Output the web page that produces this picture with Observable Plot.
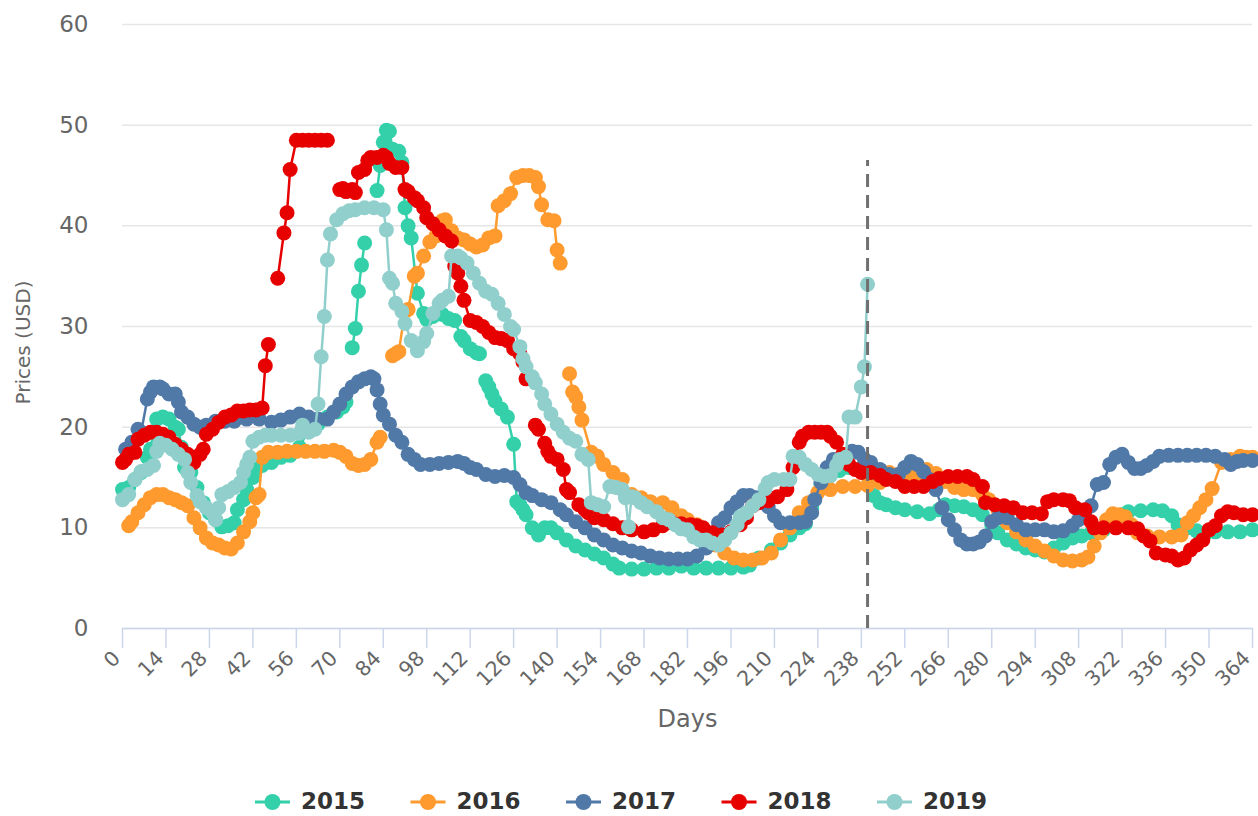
<!DOCTYPE html>
<html><head><meta charset="utf-8">
<script src="https://cdn.jsdelivr.net/npm/d3@7"></script>
<script src="https://cdn.jsdelivr.net/npm/@observablehq/plot@0.6"></script>
<style>
body{margin:0;background:#fff;font-family:"DejaVu Sans",sans-serif;overflow:hidden;}
#chart{position:absolute;left:0;top:0;}
#legend{position:absolute;left:0;top:762px;}
</style></head><body><div id="chart"></div><div id="legend"></div>
<script>
const years = ["2015","2016","2017","2018","2019"];
const colors = ["#33d0aa","#fe9a2e","#5079a8","#e60000","#91cfcc"];
const xTicks = d3.range(0, 365, 14);
const yTicks = [0,10,20,30,40,50,60];
const todayDay = 240;
const todayLineTop = 46.5;

const days2015 = [0,2,4,6,8,9,10,11,13,15,17,18,19,20,22,24,26,28,30,32,34,36,37,39,40,42,43,45,48,51,54,57,60,63,66,69,71,72,73,74,75,76,77,78,80,82,83,84,85,86,87,89,90,91,92,93,95,97,98,100,103,105,107,109,110,112,114,115,116,117,118,119,120,122,124,126,127,128,129,130,132,134,136,138,140,143,146,149,152,155,158,160,164,168,172,176,180,184,188,192,196,200,202,205,209,212,215,218,220,222,225,228,231,234,237,240,242,244,246,249,252,256,260,263,265,268,271,274,277,280,282,285,288,291,294,297,300,303,306,309,312,316,319,322,324,328,332,335,338,340,343,346,349,352,356,360,364];
const prices2015 = [13.8,14,14.8,15.5,17,17.8,19.5,20.8,21,20.8,20,19.8,18,16,15.5,14,12.5,11.5,10.8,10.1,10.2,10.5,11.8,12.8,13.8,15,15.8,16.2,16.5,17,17.2,18,19.8,20.3,21,21.5,22,22.5,null,27.9,29.8,33.5,36.1,38.3,null,43.5,46,48.3,49.5,49.4,47.6,47.4,46.3,41.8,40,38.8,33.3,31.3,30.7,31,31.2,30.8,30.6,29,28.6,27.8,27.4,27.3,null,24.6,24,23.3,22.6,21.8,21,18.3,12.6,12.3,11.8,11.3,10,9.3,10,10,9.5,8.8,8.2,7.8,7.4,7,6.4,6,5.9,5.9,6,6,6.2,6,6,6,6,6.1,6.3,7,7.8,8.5,9.3,10,10.4,12,14.3,15.2,15.7,16,15.8,15.2,13.2,12.5,12.3,12,11.8,11.6,11.4,11.8,12.3,12.2,12.1,11.8,11.3,10.3,9.5,8.8,8.4,8,7.8,7.6,8,8.5,9,9.2,9.5,9.8,10.5,11.3,11.6,11.7,11.8,11.7,11.2,10.3,10,9.7,9.5,9.6,9.6,9.6,9.8];

const days2016 = [2,3,5,7,9,11,13,15,17,19,21,23,25,27,29,31,33,35,37,39,41,42,43,44,45,47,50,53,56,59,62,65,68,70,72,74,76,78,80,82,83,85,87,88,89,91,92,94,95,97,99,101,103,104,106,108,110,112,114,116,118,120,121,123,125,127,129,131,133,134,135,137,139,140,141,143,144,145,146,147,148,151,153,155,158,161,164,167,170,174,177,180,182,185,188,191,194,197,200,203,206,209,212,215,218,221,224,228,232,236,240,244,247,250,253,256,259,262,265,268,271,274,277,279,282,285,288,291,294,297,300,303,306,309,311,313,315,317,319,321,323,325,327,330,334,338,341,343,345,347,349,351,354,357,360,362,364];
const prices2016 = [10.2,10.6,11.5,12.3,13,13.3,13.3,13,12.8,12.5,12.2,11,10,9,8.5,8.3,8,7.9,8.5,9.6,10.6,11.5,13,13.3,17,17.5,17.5,17.6,17.6,17.6,17.6,17.6,17.7,17.5,17.1,16.4,16.2,16.3,16.8,18.5,19,null,27.1,27.3,27.5,31.5,31.7,35,35.3,37,38.4,39,40.5,40.6,39.5,38.8,38.6,38.2,37.9,38.1,38.8,39,42,42.5,43.2,44.8,45,45,44.8,43.9,42.1,40.6,40.5,37.6,36.3,null,25.3,23.5,23,22,20.7,17.5,17.1,16.3,15.5,14.8,13.3,13,12.6,12.5,12,11.2,10.8,10.3,9.5,8.3,7.5,7,6.8,6.8,7,7.5,8.8,10,11.5,12.5,13.5,13.8,14.1,14.1,14.2,14.5,15.5,15.3,15,15.3,15.8,15.4,14.6,14,13.8,13.8,13.3,12.8,11.8,10.5,9.6,8.8,8.2,7.7,7.2,6.8,6.7,6.8,7.1,8.2,9.5,10.8,11.4,11.3,11.1,10.3,9.5,9.2,9.1,9.1,9.3,10.5,11.2,12,12.8,13.9,16.5,16.8,17.1,17,17];

const days2017 = [1,3,5,6,8,9,10,12,13,15,17,18,19,21,23,25,27,30,33,36,40,44,48,51,54,57,60,63,66,68,70,72,74,76,78,80,81,82,83,84,86,88,90,92,94,96,99,102,105,108,110,112,114,117,120,123,126,128,130,132,135,138,141,143,146,149,152,155,158,161,164,167,170,173,176,179,182,185,188,190,192,194,196,198,200,202,204,206,208,210,212,215,218,220,222,223,225,227,229,232,235,237,239,241,244,247,250,252,254,256,258,260,262,264,266,268,270,272,274,276,278,280,282,285,288,291,294,297,300,303,306,308,310,312,314,316,318,320,322,324,326,328,330,332,334,337,340,343,346,349,352,355,357,359,361,364];
const prices2017 = [17.8,18.5,19.8,19.5,22.8,23.5,24,24,23.8,23.3,23.3,22.5,21.5,21,20.3,20,20.2,20.6,20.6,20.6,20.8,20.8,20.5,20.7,21,21.3,21,20.8,20.8,21.5,22.3,23.3,24,24.5,24.8,25,24.8,23.7,22.3,21.2,20.3,19.2,18.5,17.3,16.8,16.3,16.3,16.4,16.5,16.6,16.4,16,15.8,15.3,15.1,15.2,15,14.3,13.5,13.2,12.8,12.5,11.8,11.3,10.6,10,9.3,8.8,8.3,8,7.7,7.5,7.2,7,6.9,6.9,6.9,7.2,8,9.3,10.5,11,12,12.6,13.2,13.2,13,12.8,12.1,11.2,10.5,10.5,10.5,10.6,11.5,12.8,14.5,16,16.8,17.2,17.6,17.5,16.8,16.5,15.8,15.3,15.3,16,16.6,16.3,15.6,14.8,13.8,12,10.8,9.8,8.8,8.4,8.4,8.6,9.2,10.6,11,11,10.3,9.8,9.8,9.8,9.6,9.7,10.2,10.8,11.5,12.2,14.3,14.5,16.3,17,17.3,16.5,15.9,15.9,16.2,16.6,17.1,17.2,17.2,17.2,17.2,17.2,17.1,16.8,16.3,16.6,16.7,16.7];

const days2018 = [0,1,2,4,5,7,9,11,13,15,17,19,21,23,25,26,27,29,31,33,35,37,39,41,43,45,46,47,49,50,52,53,54,56,58,60,62,64,66,68,70,71,72,74,75,76,78,79,80,82,84,85,86,88,90,91,92,94,95,97,98,100,102,104,106,107,108,109,110,112,114,116,118,120,122,124,126,128,129,130,132,133,134,136,137,138,140,142,143,144,147,149,150,152,155,158,161,164,168,171,174,177,180,183,185,187,190,193,196,199,201,203,205,208,211,214,216,218,219,221,223,225,227,228,230,232,234,236,238,241,244,246,249,252,255,258,261,263,266,269,272,274,277,278,281,284,287,290,293,296,298,300,303,305,307,310,312,313,316,320,324,327,329,331,333,336,338,340,342,344,346,348,350,352,354,356,358,361,364];
const prices2018 = [16.5,16.8,17.3,17.5,18.8,19.2,19.5,19.5,19.3,19,18.3,17.8,17.3,16.5,17.3,17.8,19.3,19.8,20.5,21,21.2,21.6,21.6,21.7,21.7,21.9,26.1,28.2,null,34.8,39.3,41.3,45.6,48.5,48.5,48.5,48.5,48.5,48.5,null,43.6,43.7,43.4,43.6,43.3,45.3,45.6,46.5,46.8,46.8,47,46.8,46.2,45.8,45.8,43.6,43.4,42.8,42.5,41.8,40.8,40.2,39.6,39,38.5,36,35.3,34,32.6,30.6,30.4,30,29.4,28.9,28.8,28.6,27.8,27.3,26.5,24.8,null,20.2,19.8,18.4,17.6,17.1,16.8,15.8,13.8,13.5,12.3,11.8,11.5,11,10.8,10.4,10,9.8,9.6,9.8,10.2,10.5,10.4,10.3,10.2,10,9.5,9.3,9.6,10.3,11,12.2,12.5,12.7,13.1,13.8,16,18.5,19.1,19.5,19.5,19.5,19.5,19.1,18.5,17.3,16.3,15.8,15.5,15.5,15.2,14.8,14.6,14.1,14.1,14.1,14.6,14.9,15.1,15.1,15.1,14.8,14.1,12.5,12.3,12.2,12,11.5,11.5,11.4,12.6,12.8,12.8,12.7,12,11.8,10.6,10,10,10,10,9.9,9.2,8.7,7.5,7.3,7.2,6.8,7,7.8,8.3,8.8,9.8,10.2,11.2,11.6,11.5,11.3,11.3];

const days2019 = [0,2,4,6,8,10,11,12,14,16,18,20,21,22,24,25,27,29,30,31,32,34,36,38,39,40,41,42,44,46,48,51,54,57,58,60,62,63,64,65,66,67,69,71,73,75,78,81,84,85,86,87,88,90,91,93,95,97,98,100,102,103,105,106,108,109,111,113,115,117,119,121,123,125,126,128,129,130,132,133,135,136,138,140,142,144,146,148,150,151,153,155,157,159,161,162,163,164,165,167,169,172,174,176,178,180,182,184,186,188,190,192,194,196,198,199,201,203,205,207,208,210,213,215,216,218,220,222,224,226,228,230,231,233,234,236,238,239,240];
const prices2019 = [12.8,13.3,14.8,15.6,15.8,16.2,17.6,18.4,18.2,17.8,17.3,16.8,15.5,14.5,13.2,12.6,12,11.5,10.8,12,13.3,13.6,14,14.5,15.5,16.3,17,18.6,19,19.2,19.2,19.2,19.2,19.4,20.2,19.5,19.8,22.3,27,31,36.6,39.2,40.6,41.2,41.5,41.6,41.8,41.8,41.6,39.6,34.8,34.3,32.3,31.5,30.3,28.6,27.6,28.5,29.3,31.3,32.3,32.6,33,37,37,36.8,36.3,35.3,34.3,33.5,33.2,32.3,31.2,30,29.7,28,26.8,26,25,24.4,23.3,22.3,21.3,20.3,19.5,18.9,18.6,17.3,16.8,12.5,12.3,12.1,14.1,14,13.8,13,10.1,13.1,13,12.5,12.1,11.6,11,10.8,10.3,9.9,9.8,9.1,8.8,8.8,8.5,8.3,8.8,9.5,10.3,11.1,11.5,12.2,12.8,13.9,14.5,14.8,14.8,14.8,17.1,17,16.3,15.8,15.3,15.1,15.2,16.2,16.8,17,21,21,24,26,34.2];

const dayLists = [days2015, days2016, days2017, days2018, days2019];
const priceLists = [prices2015, prices2016, prices2017, prices2018, prices2019];

const seriesMarks = [];
years.forEach((yr, k) => {
  const rows = dayLists[k].map((d, i) => ({year: yr, day: d, price: priceLists[k][i]}));
  seriesMarks.push(Plot.line(rows, {x: "day", y: "price", stroke: colors[k], strokeWidth: 2.5}));
  seriesMarks.push(Plot.dot(rows.filter(r => r.price != null), {x: "day", y: "price", r: 7.5, fill: colors[k], stroke: "none"}));
});

const chart = Plot.plot({
  width: 1258, height: 762,
  marginLeft: 122, marginRight: 6, marginTop: 24, marginBottom: 134,
  x: {domain: [0, 364]},
  y: {domain: [0, 60]},
  style: {fontFamily: "DejaVu Sans, sans-serif", background: "#fff"},
  marks: [
    Plot.gridY(yTicks, {stroke: "#e6e6e6", strokeOpacity: 1, strokeWidth: 1.5}),
    Plot.axisY(yTicks, {tickSize: 0, tickPadding: 34, fontSize: 23, fill: "#666", label: null}),
    Plot.ruleY([0], {stroke: "#ccd6eb", strokeWidth: 1.5}),
    Plot.axisX(xTicks, {tickSize: 20, stroke: "#ccd6eb", strokeOpacity: 1, strokeWidth: 1.5, tickFormat: () => "", label: null}),
    Plot.text(xTicks, {x: d => d, frameAnchor: "bottom", text: d => String(d), dy: 31, dx: -1, rotate: -45, textAnchor: "end", fontSize: 20.5, fill: "#666"}),
    Plot.text(["Prices (USD)"], {frameAnchor: "left", textAnchor: "middle", dx: -99, dy: 16, rotate: -90, fontSize: 20, fill: "#666"}),
    Plot.text(["Days"], {frameAnchor: "bottom", dy: 98, fontSize: 24, fill: "#666"}),
    ...seriesMarks,
    Plot.ruleX([todayDay], {y1: 0, y2: todayLineTop, stroke: "#707070", strokeWidth: 3, strokeDasharray: "13,8"})
  ]
});
document.getElementById("chart").appendChild(chart);

// legend
const lg = d3.select("#legend").append("svg").attr("width", 1258).attr("height", 54);
years.forEach((yr, i) => {
  const x0 = 255 + 155.5 * i;
  const g = lg.append("g");
  g.append("line").attr("x1", x0).attr("x2", x0 + 35).attr("y1", 40).attr("y2", 40).attr("stroke", colors[i]).attr("stroke-width", 3);
  g.append("circle").attr("cx", x0 + 17.5).attr("cy", 40).attr("r", 8).attr("fill", colors[i]);
  g.append("text").attr("x", x0 + 46).attr("y", 38.5).attr("dy", "0.36em").attr("font-size", 23).attr("font-weight", "bold").attr("fill", "#333").attr("font-family", "DejaVu Sans, sans-serif").text(yr);
});
</script></body></html>
